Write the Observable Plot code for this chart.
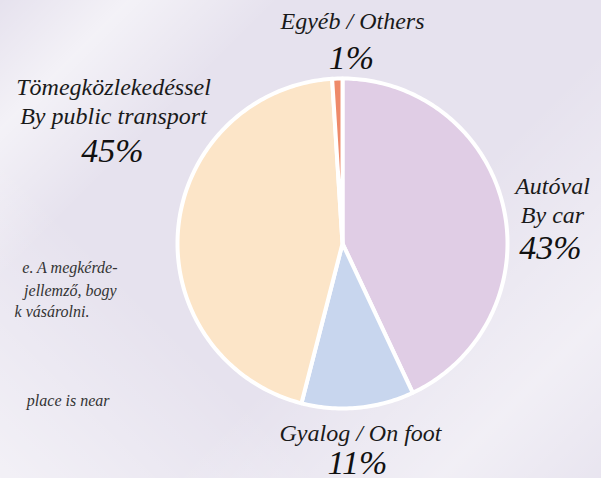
<!DOCTYPE html>
<html><head><meta charset="utf-8">
<script src="https://cdn.jsdelivr.net/npm/d3@7"></script>
<script src="https://cdn.jsdelivr.net/npm/@observablehq/plot@0.6"></script>
</head><body style="margin:0;background:linear-gradient(135deg, rgba(255,255,255,0) 0%, rgba(255,255,255,0.55) 12%, rgba(255,255,255,0) 26%, rgba(255,255,255,0) 60%, rgba(255,255,255,0.45) 85%, rgba(255,255,255,0.1) 100%), linear-gradient(45deg, rgba(255,255,255,0.5) 0%, rgba(255,255,255,0) 30%), #E6E2EE;min-height:478px">
<div aria-hidden="true" style="position:absolute;left:-2000px;top:0;font-family:'Liberation Serif';font-style:italic;font-size:20px">Aa <span style="font-size:16px">Aa</span> <span style="font-size:24px">Aa</span> <span style="font-size:34px">Aa</span></div>
<div id="chart"></div>
<script>
const categories = ["Autóval / By car", "Gyalog / On foot", "Tömegközlekedéssel / By public transport", "Egyéb / Others"];
const values = [43, 11, 45, 1];
const labelTexts = ["Autóval\nBy car", "Gyalog / On foot", "Tömegközlekedéssel\nBy public transport", "Egyéb / Others"];
const colors = ["#E0CDE5", "#C8D6EE", "#FCE5C8", "#EE8A6A"];
const sideTexts = ["e. A megkérde-", "jellemző, bogy", "k vásárolni.", "place is near"];

// layout (pixels)
const cx = 342, cy = 243, R = 165;
const labelPx = [[552, 222], [360, 440], [113, 123], [352, 28]];
const pctPx = [[550, 258], [357, 473], [112, 161], [351, 68]];
const sidePx = [[117, 272], [116, 295], [89, 316], [109, 405]];
const toX = px => (px - cx) / R, toY = py => (cy - py) / R;

const arcs = d3.pie().sort(null).value(d => d)(values);
const pts = [];
arcs.forEach((p, i) => {
  pts.push({cat: categories[i], x: 0, y: 0});
  const n = Math.max(2, Math.ceil((p.endAngle - p.startAngle) / (Math.PI / 180)));
  for (let k = 0; k <= n; k++) {
    const a = p.startAngle + (p.endAngle - p.startAngle) * k / n;
    pts.push({cat: categories[i], x: Math.sin(a), y: Math.cos(a)});
  }
});

const labels = categories.map((c, i) => ({text: labelTexts[i], x: toX(labelPx[i][0]), y: toY(labelPx[i][1])}));
const pcts = categories.map((c, i) => ({text: values[i] + "%", x: toX(pctPx[i][0]), y: toY(pctPx[i][1])}));
const sides = sideTexts.map((t, i) => ({text: t, x: toX(sidePx[i][0]), y: toY(sidePx[i][1])}));

const base = {x: "x", y: "y", text: "text", lineAnchor: "bottom", fontStyle: "italic", fontFamily: "'Liberation Serif', serif"};
const chart = Plot.plot({
  width: 601, height: 478,
  margin: 0,
  style: "background: transparent; overflow: visible;",
  x: {domain: [-1, 1], range: [cx - R, cx + R], axis: null},
  y: {domain: [-1, 1], range: [cy + R, cy - R], axis: null},
  color: {domain: categories, range: colors},
  marks: [
    Plot.line(pts, {x: "x", y: "y", z: "cat", fill: "cat", stroke: "white", strokeWidth: 4, strokeLinejoin: "round", curve: "linear-closed"}),
    Plot.text(labels, {...base, fontSize: 24, textAnchor: "middle", lineHeight: 1.2, fill: "#1a1a1a"}),
    Plot.text(pcts, {...base, fontSize: 34, textAnchor: "middle", fill: "#111"}),
    Plot.text(sides, {...base, fontSize: 16, textAnchor: "end", fill: "#333"})
  ]
});
document.getElementById("chart").appendChild(chart);
</script></body></html>
